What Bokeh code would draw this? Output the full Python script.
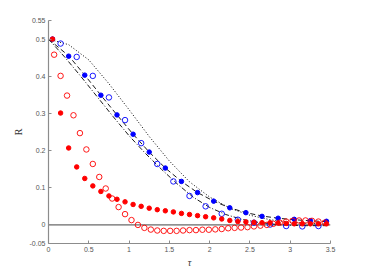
from bokeh.plotting import figure
from bokeh.models import FixedTicker, Range1d
from bokeh.embed import file_html
from bokeh.resources import INLINE

# Red filled markers
red_f_x = [0.05, 0.15, 0.25, 0.35, 0.45, 0.55, 0.65, 0.75, 0.85, 0.95, 1.05, 1.15, 1.25, 1.35, 1.45,
           1.55, 1.65, 1.75, 1.85, 1.95, 2.05, 2.15, 2.25, 2.35, 2.45, 2.55, 2.65, 2.75, 2.85, 2.95,
           3.05, 3.15, 3.25, 3.35, 3.45]
red_f_y = [0.5, 0.301, 0.207, 0.156, 0.125, 0.105, 0.09, 0.078, 0.069, 0.062, 0.055, 0.05, 0.045, 0.041,
           0.038, 0.035, 0.031, 0.028, 0.025, 0.022, 0.019, 0.016, 0.012, 0.009, 0.008, 0.007, 0.006,
           0.006, 0.005, 0.004, 0.003, 0.003, 0.003, 0.003, 0.003]

# Red hollow markers
red_h_x = [0.07, 0.15, 0.23, 0.31, 0.39, 0.47, 0.55, 0.63, 0.71, 0.79, 0.87, 0.95, 1.03, 1.11, 1.19,
           1.27, 1.35, 1.43, 1.51, 1.59, 1.67, 1.75, 1.83, 1.91, 1.99, 2.07, 2.15, 2.23, 2.31, 2.39,
           2.47, 2.55, 2.63, 2.71, 2.79, 2.87, 2.95, 3.03, 3.11, 3.19, 3.27, 3.35, 3.43]
red_h_y = [0.458, 0.401, 0.348, 0.295, 0.247, 0.203, 0.164, 0.129, 0.098, 0.071, 0.048, 0.029, 0.013,
           0.0, -0.008, -0.0125, -0.015, -0.016, -0.016, -0.016, -0.015, -0.014, -0.014, -0.013,
           -0.013, -0.012, -0.011, -0.009, -0.008, -0.007, -0.006, -0.004, -0.002, 0.0, 0.003,
           0.006, 0.009, 0.011, 0.012, 0.012, 0.011, 0.009, 0.006]

# Blue filled markers
blue_f_x = [0.05, 0.25, 0.45, 0.65, 0.85, 1.05, 1.25, 1.45, 1.65, 1.85, 2.05, 2.25, 2.45, 2.65, 2.85,
            3.05, 3.25, 3.45]
blue_f_y = [0.5, 0.454, 0.403, 0.349, 0.296, 0.244, 0.196, 0.153, 0.117, 0.087, 0.064, 0.046, 0.033,
            0.023, 0.018, 0.015, 0.0115, 0.0097]

# Blue hollow markers
blue_h_x = [0.15, 0.35, 0.55, 0.75, 0.95, 1.15, 1.35, 1.55, 1.75, 1.95, 2.15, 2.35, 2.55, 2.75, 2.95,
            3.15, 3.35]
blue_h_y = [0.488, 0.452, 0.401, 0.343, 0.282, 0.22, 0.164, 0.117, 0.078, 0.05, 0.03, 0.014, 0.006,
            0.001, -0.003, -0.004, -0.003]

# Curves
dash_x = [0.0, 0.25, 0.45, 0.65, 0.85, 1.05, 1.25, 1.45, 1.65, 1.85, 2.05, 2.25, 2.45, 2.65, 2.85,
          3.05, 3.25, 3.45]
dash_y = [0.5, 0.455, 0.403, 0.349, 0.296, 0.244, 0.196, 0.153, 0.117, 0.087, 0.064, 0.046, 0.033,
          0.024, 0.018, 0.014, 0.011, 0.009]

dashdot_x = [0.0, 0.2, 0.4, 0.6, 0.8, 1.0, 1.2, 1.4, 1.6, 1.8, 2.0, 2.2, 2.4, 2.6, 2.8, 3.0, 3.2, 3.45]
dashdot_y = [0.5, 0.452, 0.4, 0.346, 0.292, 0.24, 0.193, 0.15, 0.11, 0.074, 0.047, 0.028, 0.015,
             0.007, 0.002, -0.001, -0.002, -0.002]

dot_x = [0.0, 0.25, 0.5, 0.75, 1.0, 1.25, 1.5, 1.75, 2.0, 2.25, 2.5, 2.75, 3.0, 3.25, 3.45]
dot_y = [0.5, 0.485, 0.444, 0.38, 0.31, 0.238, 0.172, 0.116, 0.075, 0.045, 0.026, 0.014, 0.007,
         0.004, 0.002]

zero_x = [0.0, 3.5]
zero_y = [0.0, 0.0]

x_ticks = [0, 0.5, 1, 1.5, 2, 2.5, 3, 3.5]
x_labels = ["0", "0.5", "1", "1.5", "2", "2.5", "3", "3.5"]
y_ticks = [-0.05, 0, 0.1, 0.2, 0.3, 0.4, 0.5, 0.55]
y_labels = ["-0.05", "0", "0.1", "0.2", "0.3", "0.4", "0.5", "0.55"]

p = figure(width=358, height=270, output_backend="svg", toolbar_location=None,
           x_range=Range1d(0, 3.5), y_range=Range1d(-0.05, 0.55),
           min_border_left=48, min_border_right=28, min_border_top=20, min_border_bottom=26)
p.outline_line_color = None
p.xgrid.visible = False
p.ygrid.visible = False

for ax, ticks, labels in ((p.xaxis[0], x_ticks, x_labels), (p.yaxis[0], y_ticks, y_labels)):
    ax.ticker = FixedTicker(ticks=ticks)
    ax.major_label_overrides = {t: l for t, l in zip(ticks, labels)}
    ax.minor_tick_line_color = None
    ax.major_tick_in = 3
    ax.major_tick_out = 0
    ax.axis_line_color = "#8c8c8c"
    ax.axis_line_width = 1.2
    ax.major_tick_line_color = "#8c8c8c"
    ax.major_label_text_font = "Liberation Sans"
    ax.major_label_text_font_size = "7px"
    ax.major_label_text_color = "#555555"
    ax.axis_label_text_font = "Liberation Serif"
    ax.axis_label_text_font_style = "normal"
    ax.axis_label_text_font_size = "10px"
    ax.axis_label_text_color = "#333333"

p.xaxis.axis_label = "τ"
p.xaxis.axis_label_text_font_style = "italic"
p.xaxis.major_label_standoff = 3
p.xaxis.axis_label_standoff = 2
p.yaxis.axis_label = "R"
p.yaxis.major_label_standoff = 3
p.yaxis.axis_label_standoff = 3

p.line(zero_x, zero_y, line_color="#444444", line_width=1)
p.line(dot_x, dot_y, line_color="black", line_width=1, line_dash="1 2")
p.line(dash_x, dash_y, line_color="black", line_width=0.9, line_dash="5 3")
p.line(dashdot_x, dashdot_y, line_color="black", line_width=0.9, line_dash="5 2 1 2")

p.scatter(blue_f_x, blue_f_y, size=4.5, marker="circle", fill_color="blue", line_color="blue")
p.scatter(blue_h_x, blue_h_y, size=5.5, marker="circle", fill_color=None, line_color="blue", line_width=0.9)
p.scatter(red_h_x, red_h_y, size=5.5, marker="circle", fill_color=None, line_color="red", line_width=0.9)
p.scatter(red_f_x, red_f_y, size=4.5, marker="circle", fill_color="red", line_color="red")

open("out.html", "w").write(file_html(p, INLINE))
